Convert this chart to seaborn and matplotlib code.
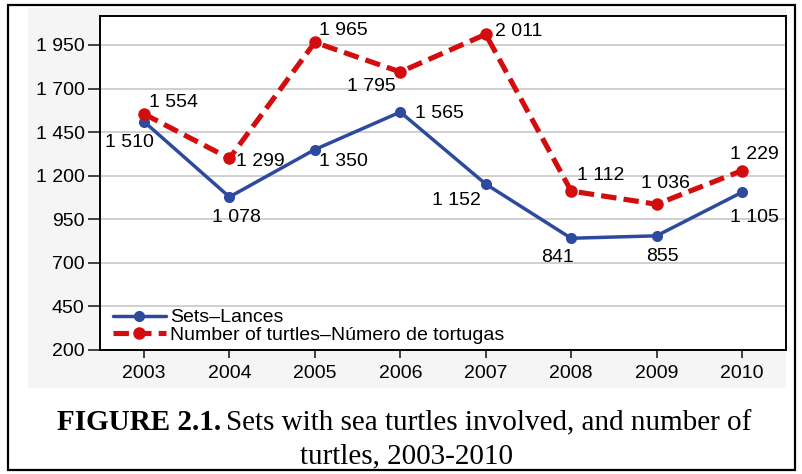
import pandas as pd
import matplotlib.pyplot as plt
import seaborn as sns
from matplotlib.patches import Rectangle

years = [2003, 2004, 2005, 2006, 2007, 2008, 2009, 2010]
sets = [1510, 1078, 1350, 1565, 1152, 841, 855, 1105]
turtles = [1554, 1299, 1965, 1795, 2011, 1112, 1036, 1229]
yticks = [200, 450, 700, 950, 1200, 1450, 1700, 1950]

def fmt(v):
    return f"{v:,}".replace(",", " ")

df = pd.DataFrame({'Year': years, 'Sets': sets, 'Turtles': turtles})

sns.set_style('white')
plt.rcParams['font.family'] = ['Liberation Sans', 'DejaVu Sans']
plt.rcParams['text.color'] = 'black'
plt.rcParams['xtick.color'] = 'black'
plt.rcParams['ytick.color'] = 'black'

fig = plt.figure(figsize=(8.03, 4.74), dpi=100)
ax = fig.add_axes([100 / 803, 1 - 350 / 474, 686 / 803, 334 / 474])
ax.set_zorder(2)

# light gray chart-area background behind the axes
fig.add_artist(Rectangle((28 / 803, 1 - 388 / 474), 758 / 803, 380 / 474,
                         transform=fig.transFigure, facecolor='#f5f5f5',
                         edgecolor='none', zorder=1))
# outer frame
fig.add_artist(Rectangle((8 / 803, 1 - 470 / 474), 787 / 803, 465 / 474,
                         transform=fig.transFigure, facecolor='none',
                         edgecolor='black', linewidth=1.6, zorder=5))

blue = '#2e4a9e'
red = '#d30d0d'
sns.lineplot(data=df, x='Year', y='Sets', ax=ax, color=blue, lw=2.5,
             marker='o', markersize=8, markeredgewidth=0, label='Sets\u2013Lances')
sns.lineplot(data=df, x='Year', y='Turtles', ax=ax, color=red, lw=3.7,
             linestyle=(0, (3, 1.4)), marker='o', markersize=9, markeredgewidth=0,
             label='Number of turtles\u2013N\u00famero de tortugas')

# data labels, offsets in pixels from the point (x right, y up)
set_off = [(-15, -21), (7, -21), (29, -12), (39, -1), (-29, -16), (-14, -19), (6, -21), (12, -25)]
tur_off = [(30, 11), (31, -3), (29, 12), (-29, -15), (33, 3), (30, 16), (9, 21), (12, 16)]
for x, v, o in zip(years, sets, set_off):
    ax.annotate(fmt(v), (x, v), xytext=o, textcoords='offset pixels',
                ha='center', va='center', fontsize=14)
for x, v, o in zip(years, turtles, tur_off):
    ax.annotate(fmt(v), (x, v), xytext=o, textcoords='offset pixels',
                ha='center', va='center', fontsize=14)

ax.set_xlim(2002.485, 2010.515)
ax.set_ylim(200, 2116)
ax.set_xticks(years)
ax.set_xticklabels([str(y) for y in years], fontsize=14)
ax.set_yticks(yticks)
ax.set_yticklabels([fmt(v) for v in yticks], fontsize=14)
ax.set_xlabel('')
ax.set_ylabel('')
ax.yaxis.grid(True, color='#c8c8c8', lw=1.2)
ax.set_axisbelow(True)
for s in ax.spines.values():
    s.set_color('black')
    s.set_linewidth(1.4)
ax.tick_params(axis='y', direction='out', length=9, width=1.2, color='#222222',
               left=True, pad=2)
ax.tick_params(axis='x', direction='out', length=6, width=1.2, color='#222222',
               bottom=True, pad=5)

leg = ax.legend(loc='lower left', frameon=False, fontsize=14, handlelength=2.7,
                handletextpad=0.25, labelspacing=0.0, borderaxespad=0.0,
                borderpad=0.0, bbox_to_anchor=(13 / 686, 6 / 334))

# caption
cap_font = ['Liberation Serif', 'DejaVu Serif']
t1 = fig.text(57 / 803, 1 - 423 / 474, 'FIGURE 2.1.', fontsize=21, fontweight='bold',
              family=cap_font, ha='left', va='center')
fig.canvas.draw()
bb = t1.get_window_extent()
fig.text(bb.x1 / fig.bbox.width + 5 / 803, 1 - 423 / 474,
         'Sets with sea turtles involved, and number of', fontsize=21,
         family=cap_font, ha='left', va='center')
fig.text(407 / 803, 1 - 456 / 474, 'turtles, 2003-2010', fontsize=21,
         family=cap_font, ha='center', va='center')

fig.savefig('out.png', dpi=100)
